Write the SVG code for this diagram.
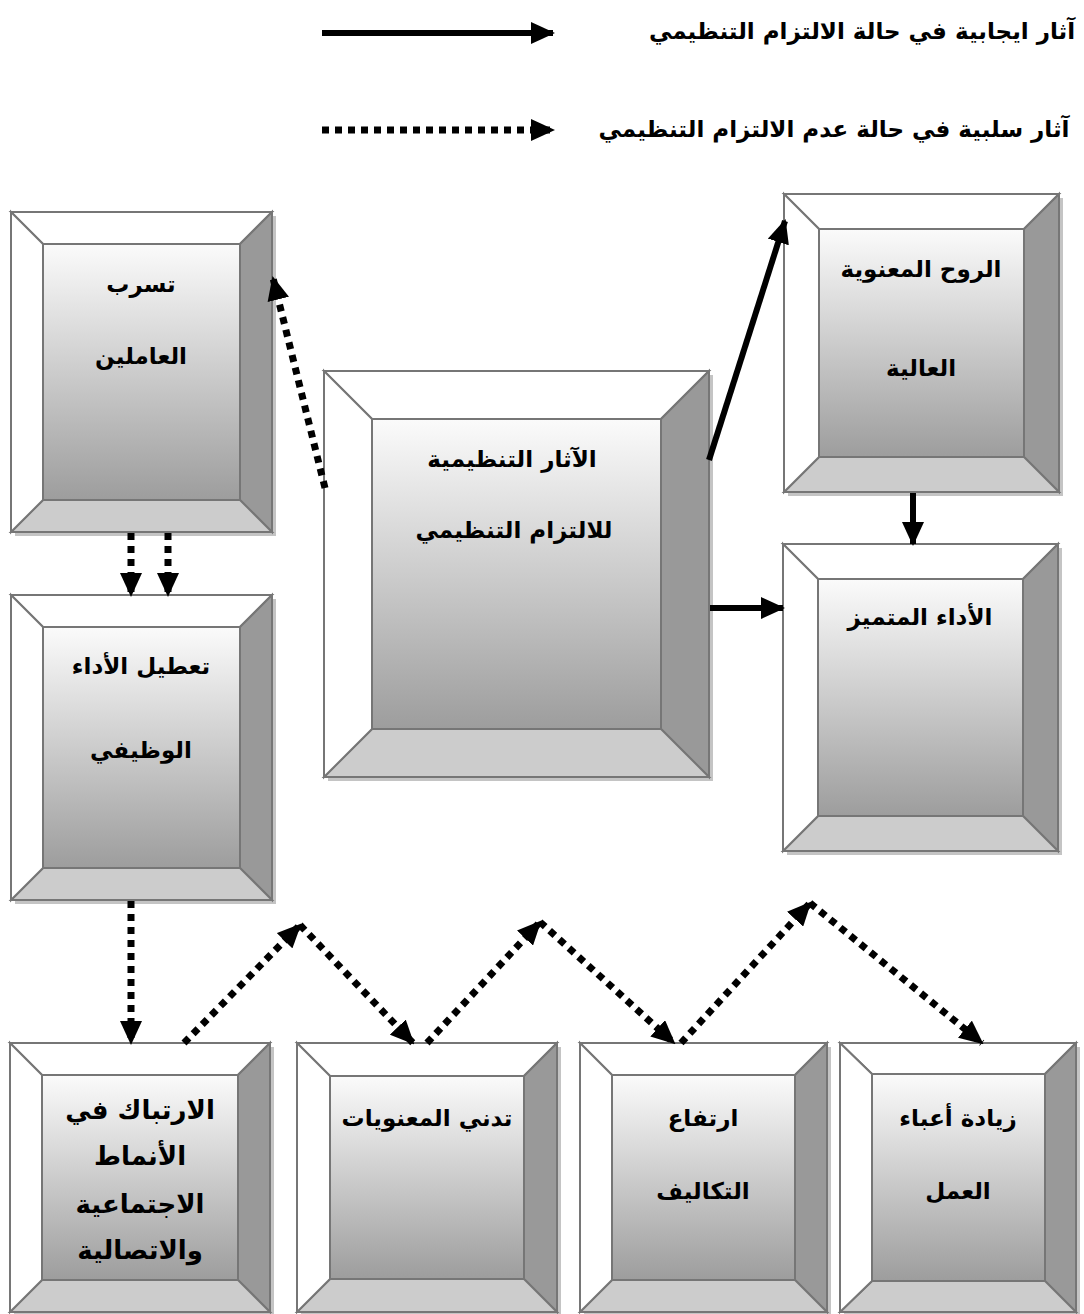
<svg xmlns="http://www.w3.org/2000/svg" width="1084" height="1314" viewBox="0 0 1084 1314">
  <defs>
    <linearGradient id="face" x1="0" y1="0" x2="0" y2="1">
      <stop offset="0" stop-color="#fbfbfb"/>
      <stop offset="1" stop-color="#9d9d9d"/>
    </linearGradient>
    <marker id="head" markerUnits="userSpaceOnUse" viewBox="0 0 24 22" refX="22" refY="11" markerWidth="24" markerHeight="22" orient="auto">
      <path d="M0,0 L24,11 L0,22 Z" fill="#000"/>
    </marker>
    <style>
      .shadow{fill:#c4c4c4}
      .edge{stroke:#767676;stroke-width:2;stroke-linejoin:miter}
      .hi{fill:#ffffff}
      .side{fill:#999999}
      .base{fill:#cccccc}
      .face{fill:url(#face)}
      .lbl{font-family:"DejaVu Sans",sans-serif;font-weight:bold;font-size:23px;fill:#000;text-anchor:middle}
      .big{font-size:26px}
      .leg{font-family:"DejaVu Sans",sans-serif;font-weight:bold;font-size:23px;fill:#000;text-anchor:middle}
      .solid{fill:none;stroke:#000;stroke-width:6;marker-end:url(#head)}
      .dots{fill:none;stroke:#000;stroke-width:7;stroke-dasharray:7 6;marker-end:url(#head)}
    </style>
  </defs>

  <!-- legend -->
  <g id="legend">
    <path class="solid" d="M322,33 H553" stroke-width="8"/>
    <text class="leg" x="862" y="39" direction="rtl">آثار ايجابية في حالة الالتزام التنظيمي</text>
    <path class="dots" d="M322,130 H553" stroke-width="8" stroke-dasharray="8 6"/>
    <text class="leg" x="834" y="137" direction="rtl">آثار سلبية في حالة عدم الالتزام التنظيمي</text>
  </g>

  <!-- bevelled boxes: outer frame, four bevels, gradient face -->
  <g id="node-tasarrub">
    <rect class="shadow" x="15" y="216" width="261" height="320"/>
    <polygon class="hi edge" points="11,212 272,212 240,244 43,244"/>
    <polygon class="side edge" points="272,212 272,532 240,500 240,244"/>
    <polygon class="base edge" points="11,532 272,532 240,500 43,500"/>
    <polygon class="hi edge" points="11,212 43,244 43,500 11,532"/>
    <rect class="face edge" x="43" y="244" width="197" height="256"/>
    <text class="lbl" x="141" y="292" direction="rtl">تسرب</text>
    <text class="lbl" x="141" y="364" direction="rtl">العاملين</text>
  </g>

  <g id="node-tatil">
    <rect class="shadow" x="15" y="599" width="261" height="305"/>
    <polygon class="hi edge" points="11,595 272,595 240,627 43,627"/>
    <polygon class="side edge" points="272,595 272,900 240,868 240,627"/>
    <polygon class="base edge" points="11,900 272,900 240,868 43,868"/>
    <polygon class="hi edge" points="11,595 43,627 43,868 11,900"/>
    <rect class="face edge" x="43" y="627" width="197" height="241"/>
    <text class="lbl" x="141" y="674" direction="rtl">تعطيل الأداء</text>
    <text class="lbl" x="141" y="758" direction="rtl">الوظيفي</text>
  </g>

  <g id="node-central">
    <rect class="shadow" x="328" y="375" width="385" height="406"/>
    <polygon class="hi edge" points="324,371 709,371 661,419 372,419"/>
    <polygon class="side edge" points="709,371 709,777 661,729 661,419"/>
    <polygon class="base edge" points="324,777 709,777 661,729 372,729"/>
    <polygon class="hi edge" points="324,371 372,419 372,729 324,777"/>
    <rect class="face edge" x="372" y="419" width="289" height="310"/>
    <text class="lbl" x="512" y="467" direction="rtl">الآثار التنظيمية</text>
    <text class="lbl" x="514" y="538" direction="rtl">للالتزام التنظيمي</text>
  </g>

  <g id="node-ruh">
    <rect class="shadow" x="788" y="198" width="275" height="298"/>
    <polygon class="hi edge" points="784,194 1059,194 1024,229 819,229"/>
    <polygon class="side edge" points="1059,194 1059,492 1024,457 1024,229"/>
    <polygon class="base edge" points="784,492 1059,492 1024,457 819,457"/>
    <polygon class="hi edge" points="784,194 819,229 819,457 784,492"/>
    <rect class="face edge" x="819" y="229" width="205" height="228"/>
    <text class="lbl" x="921" y="277" direction="rtl">الروح المعنوية</text>
    <text class="lbl" x="921" y="376" direction="rtl">العالية</text>
  </g>

  <g id="node-ada">
    <rect class="shadow" x="787" y="548" width="275" height="307"/>
    <polygon class="hi edge" points="783,544 1058,544 1023,579 818,579"/>
    <polygon class="side edge" points="1058,544 1058,851 1023,816 1023,579"/>
    <polygon class="base edge" points="783,851 1058,851 1023,816 818,816"/>
    <polygon class="hi edge" points="783,544 818,579 818,816 783,851"/>
    <rect class="face edge" x="818" y="579" width="205" height="237"/>
    <text class="lbl" x="920" y="625" direction="rtl">الأداء المتميز</text>
  </g>

  <g id="node-irtibak">
    <rect class="shadow" x="14" y="1047" width="260" height="269"/>
    <polygon class="hi edge" points="10,1043 270,1043 238,1075 42,1075"/>
    <polygon class="side edge" points="270,1043 270,1312 238,1280 238,1075"/>
    <polygon class="base edge" points="10,1312 270,1312 238,1280 42,1280"/>
    <polygon class="hi edge" points="10,1043 42,1075 42,1280 10,1312"/>
    <rect class="face edge" x="42" y="1075" width="196" height="205"/>
    <text class="lbl big" x="140" y="1119" direction="rtl">الارتباك في</text>
    <text class="lbl big" x="140" y="1165" direction="rtl">الأنماط</text>
    <text class="lbl big" x="140" y="1213" direction="rtl">الاجتماعية</text>
    <text class="lbl big" x="140" y="1259" direction="rtl">والاتصالية</text>
  </g>

  <g id="node-tadanni">
    <rect class="shadow" x="301" y="1047" width="260" height="269"/>
    <polygon class="hi edge" points="297,1043 557,1043 524,1076 330,1076"/>
    <polygon class="side edge" points="557,1043 557,1312 524,1279 524,1076"/>
    <polygon class="base edge" points="297,1312 557,1312 524,1279 330,1279"/>
    <polygon class="hi edge" points="297,1043 330,1076 330,1279 297,1312"/>
    <rect class="face edge" x="330" y="1076" width="194" height="203"/>
    <text class="lbl" x="427" y="1126" direction="rtl">تدني المعنويات</text>
  </g>

  <g id="node-irtifa">
    <rect class="shadow" x="584" y="1047" width="247" height="269"/>
    <polygon class="hi edge" points="580,1043 827,1043 795,1075 612,1075"/>
    <polygon class="side edge" points="827,1043 827,1312 795,1280 795,1075"/>
    <polygon class="base edge" points="580,1312 827,1312 795,1280 612,1280"/>
    <polygon class="hi edge" points="580,1043 612,1075 612,1280 580,1312"/>
    <rect class="face edge" x="612" y="1075" width="183" height="205"/>
    <text class="lbl" x="703" y="1126" direction="rtl">ارتفاع</text>
    <text class="lbl" x="703" y="1199" direction="rtl">التكاليف</text>
  </g>

  <g id="node-ziyada">
    <rect class="shadow" x="844" y="1047" width="236" height="269"/>
    <polygon class="hi edge" points="840,1043 1076,1043 1045,1074 872,1074"/>
    <polygon class="side edge" points="1076,1043 1076,1312 1045,1281 1045,1074"/>
    <polygon class="base edge" points="840,1312 1076,1312 1045,1281 872,1281"/>
    <polygon class="hi edge" points="840,1043 872,1074 872,1281 840,1312"/>
    <rect class="face edge" x="872" y="1074" width="173" height="207"/>
    <text class="lbl" x="958" y="1126" direction="rtl">زيادة أعباء</text>
    <text class="lbl" x="958" y="1199" direction="rtl">العمل</text>
  </g>

  <!-- connectors -->
  <g id="connectors">
    <path class="solid" d="M709,460 L785,221"/>
    <path class="solid" d="M913,493 V544"/>
    <path class="solid" d="M710,608 H783"/>
    <path class="dots" d="M325,488 L273,278"/>
    <path class="dots" d="M131,533 V595"/>
    <path class="dots" d="M168,533 V595"/>
    <path class="dots" d="M131,901 V1043"/>
    <path class="dots" d="M184,1043 L300,925"/>
    <path class="dots" d="M300,925 L413,1043"/>
    <path class="dots" d="M427,1043 L540,922"/>
    <path class="dots" d="M540,922 L674,1043"/>
    <path class="dots" d="M681,1043 L810,903"/>
    <path class="dots" d="M810,903 L982,1043"/>
  </g>
</svg>
